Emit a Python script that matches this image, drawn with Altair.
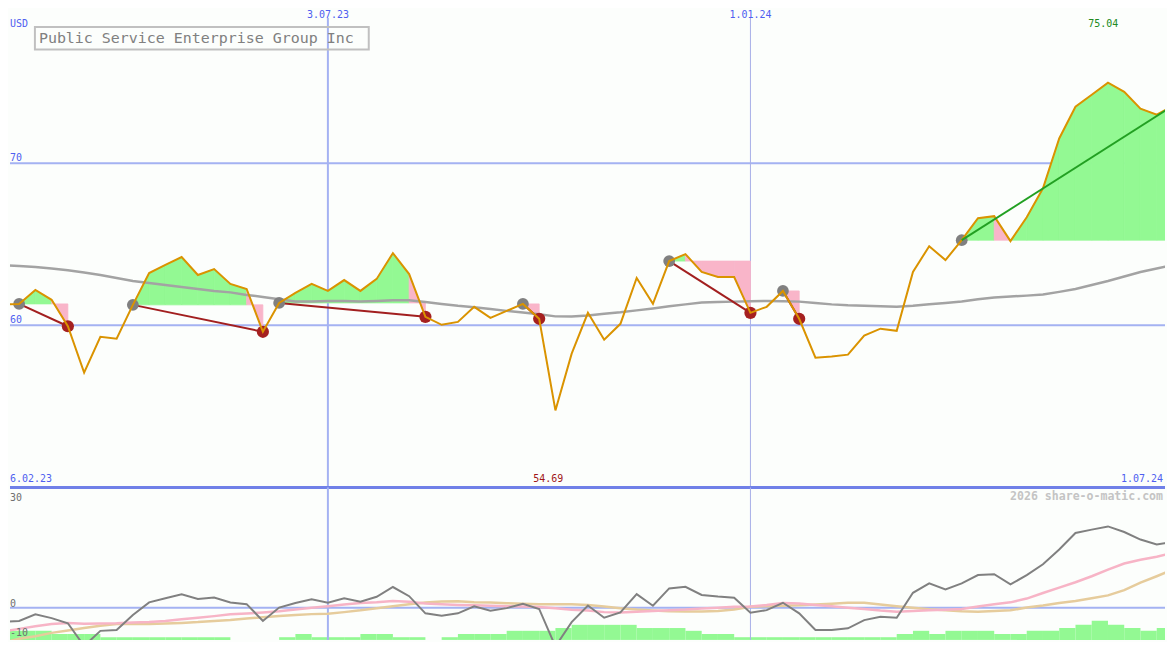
import altair as alt
import pandas as pd

# ---------------- data ----------------
dates = [d.strftime("%Y-%m-%dT00:00:00") for d in pd.date_range("2023-02-13", "2024-07-01", freq="7D")]

price = [61.29, 61.32, 62.18, 61.57, 59.94, 57.08, 59.29, 59.17, 61.26, 63.22,
         63.72, 64.21, 63.10, 63.47, 62.55, 62.24, 59.60, 61.38, 62.00, 62.55,
         62.12, 62.79, 62.12, 62.86, 64.45, 63.16, 60.52, 60.03, 60.21, 61.14,
         60.46, 60.89, 61.32, 60.40, 54.75, 58.25, 60.77, 59.11, 60.09, 62.92,
         61.32, 63.96, 64.39, 63.29, 62.98, 62.98, 60.77, 61.14, 62.12, 60.40,
         58.00, 58.07, 58.19, 59.36, 59.79, 59.66, 63.29, 64.88, 64.02, 65.25,
         66.60, 66.73, 65.19, 66.66, 68.45, 71.52, 73.48, 74.22, 74.96, 74.40,
         73.36, 72.99, 73.54]

ma = [63.72, 63.65, 63.60, 63.50, 63.39, 63.26, 63.10, 62.92, 62.73, 62.61,
      62.49, 62.36, 62.24, 62.12, 62.03, 61.87, 61.75, 61.60, 61.47, 61.47,
      61.50, 61.50, 61.47, 61.50, 61.54, 61.54, 61.44, 61.32, 61.20, 61.11,
      61.00, 60.89, 60.79, 60.68, 60.55, 60.54, 60.61, 60.71, 60.80, 60.92,
      61.04, 61.17, 61.29, 61.41, 61.44, 61.46, 61.49, 61.50, 61.49, 61.46,
      61.38, 61.29, 61.23, 61.20, 61.17, 61.14, 61.20, 61.30, 61.38, 61.47,
      61.60, 61.72, 61.78, 61.83, 61.90, 62.06, 62.24, 62.49, 62.73, 63.01,
      63.29, 63.50, 63.72]

osc = [-3.5, -3.3, -1.65, -2.6, -3.9, -9.6, -5.8, -5.6, -1.8, 1.35,
       2.4, 3.4, 2.2, 2.55, 1.3, 0.9, -3.3, 0.05, 1.2, 2.1,
       1.25, 2.4, 1.5, 2.75, 5.2, 2.9, -1.4, -2.0, -1.4, 0.35,
       -0.75, -0.1, 1.0, -0.3, -9.7, -3.6, 0.55, -2.5, -1.15, 3.4,
       0.5, 4.85, 5.25, 3.2, 2.8, 2.5, -1.25, -0.6, 1.25, -1.4,
       -5.6, -5.6, -5.15, -3.1, -2.25, -2.5, 3.75, 6.1, 4.6, 6.1,
       8.2, 8.4, 5.85, 8.2, 10.9, 14.6, 18.75, 19.6, 20.4, 19.0,
       17.1, 15.9, 16.5]

osc_pink = [-5.95, -5.3, -4.65, -4.1, -3.8, -4.0, -3.95, -3.9, -3.7, -3.55,
            -3.3, -2.9, -2.5, -2.1, -1.65, -1.45, -1.2, -0.9, -0.45, 0.0,
            0.4, 0.8, 1.2, 1.4, 1.7, 1.5, 1.05, 0.85, 0.7, 0.6,
            0.5, 0.4, 0.3, 0.2, -0.1, -0.5, -0.7, -1.1, -1.2, -1.0,
            -0.8, -0.6, -0.45, -0.2, 0.0, 0.25, 0.3, 0.7, 1.2, 1.05,
            0.7, 0.35, 0.0, -0.3, -0.7, -1.0, -0.8, -0.65, -0.5, -0.3,
            0.3, 0.9, 1.35, 2.3, 3.7, 5.05, 6.4, 7.9, 9.55, 11.1,
            12.05, 12.8, 13.75]

osc_tan = [-8.8, -7.8, -7.15, -6.3, -5.7, -5.1, -4.5, -4.1, -4.1, -4.1,
           -3.95, -3.8, -3.6, -3.3, -3.1, -2.7, -2.4, -2.1, -1.8, -1.6,
           -1.5, -1.1, -0.65, -0.1, 0.4, 0.9, 1.3, 1.55, 1.6, 1.4,
           1.3, 1.15, 1.0, 0.9, 0.9, 0.9, 0.7, 0.3, -0.1, -0.45,
           -0.7, -0.9, -0.95, -0.95, -0.8, -0.45, 0.25, 0.4, 0.5, 0.6,
           0.8, 1.0, 1.25, 1.25, 0.8, 0.4, 0.0, -0.4, -0.65, -0.9,
           -1.0, -0.8, -0.65, 0.05, 0.55, 1.2, 1.7, 2.4, 3.1, 4.4,
           6.3, 7.9, 9.6]

# weekly bars at the bottom of the lower panel (top value, None = no bar)
bars = [-8.3, -8.3, -8.3, -9.1, -9.1, -9.1, -9.9, -9.9, -9.9, -9.9,
        -9.9, -9.9, -9.9, -9.9, None, None, None, -9.9, -9.1, -9.9,
        -9.9, -9.9, -9.1, -9.1, -9.9, -9.9, None, -9.9, -9.1, -9.1,
        -9.1, -8.3, -8.3, -8.3, -7.6, -6.8, -6.8, -6.8, -6.8, -7.6,
        -7.6, -7.6, -8.3, -9.1, -9.1, -9.9, -9.9, -9.9, -9.9, -9.9,
        -9.9, -9.9, -9.9, -9.9, -9.9, -9.1, -8.3, -9.1, -8.3, -8.3,
        -8.3, -9.1, -9.1, -8.3, -8.3, -7.6, -6.8, -5.8, -6.8, -7.6,
        -8.3, -7.6]
BAR_BASE = -10.58

signals = [(1, 4), (8, 16), (17, 26), (32, 33), (41, 46), (48, 49)]
open_signal = (59, 72)

# ---------------- styling ----------------
BG = "#fcfefc"
GRID = "#a4b2f2"
BLUE = "#4f5ff0"
FONT = "DejaVu Sans Mono"
GREEN_FILL = "#93f993"
PINK_FILL = "#f9b5c9"

W = 1159
TOP_H = 479
BOT_H = 153

X0 = alt.DateTime(year=2023, month=2, date=16, hours=1, minutes=41)
X1 = alt.DateTime(year=2024, month=6, date=27, hours=13, minutes=35)
xs = alt.Scale(domain=[X0, X1], nice=False)
ys = alt.Scale(domain=[50.0, 79.44], zero=False, nice=False)
# 4 px per unit, 30.18 at the panel top
yb = alt.Scale(domain=[30.18 - BOT_H / 4.0, 30.18], zero=False, nice=False)
ybar = alt.Scale(domain=[BAR_BASE, BAR_BASE + BOT_H / 4.0], zero=False, nice=False)


def X(field="d"):
    return alt.X(f"{field}:T", scale=xs, axis=None)


def Y(field, scale):
    return alt.Y(f"{field}:Q", scale=scale, axis=None)


main = pd.DataFrame({"d": dates, "price": price, "ma": ma,
                     "osc": osc, "pink": osc_pink, "tan": osc_tan})

# fill polygons between price and signal baseline, one per weekly interval
fill_rows = []
for s, e in signals + [open_signal]:
    base = price[s]
    for i in range(s, e):
        c = GREEN_FILL if price[i + 1] >= base else PINK_FILL
        for j in (i, i + 1):
            fill_rows.append({"d": dates[j], "price": price[j], "base": base,
                              "id": f"{s}_{i}", "c": c})
fill_df = pd.DataFrame(fill_rows)

sig_rows = []
for s, e in signals:
    for j in (s, e):
        sig_rows.append({"d": dates[j], "price": price[j], "id": str(s)})
sig_df = pd.DataFrame(sig_rows)
trend_df = pd.DataFrame({"d": [dates[open_signal[0]], dates[open_signal[1]]],
                         "price": [price[open_signal[0]], price[open_signal[1]]]})
starts = [s for s, _ in signals] + [open_signal[0]]
ends = [e for _, e in signals]
start_df = pd.DataFrame({"d": [dates[i] for i in starts], "price": [price[i] for i in starts]})
end_df = pd.DataFrame({"d": [dates[i] for i in ends], "price": [price[i] for i in ends]})

bar_df = pd.DataFrame([{"d": dates[i], "d2": dates[i + 1], "top": b, "base": BAR_BASE}
                       for i, b in enumerate(bars) if b is not None])

vlines = pd.DataFrame({"d": ["2023-07-03T00:00:00", "2024-01-01T00:00:00"],
                       "top": [78.95, 78.95], "bot": [50.0, 50.0]})


def one(**kw):
    return pd.DataFrame({k: [v] for k, v in kw.items()})


def text(df, color, size=10, align="left", weight="normal", dy=0):
    return alt.Chart(df).mark_text(align=align, baseline="alphabetic", font=FONT,
                                   fontSize=size, color=color, fontWeight=weight, dy=dy)


# ---------------- top panel ----------------
hgrid = alt.Chart(pd.DataFrame({"v": [60, 70]})).mark_rule(color=GRID, strokeWidth=2).encode(y=Y("v", ys))
vg1 = alt.Chart(vlines.iloc[[0]]).mark_rule(color=GRID, strokeWidth=2).encode(
    x=X(), y=Y("top", ys), y2="bot:Q")
vg2 = alt.Chart(vlines.iloc[[1]]).mark_rule(color="#a8b0e8", strokeWidth=1).encode(
    x=X(), y=Y("top", ys), y2="bot:Q")
fills = alt.Chart(fill_df).mark_area(strokeWidth=0.8, clip=True).encode(
    x=X(), y=Y("price", ys), y2="base:Q", detail="id:N",
    color=alt.Color("c:N", scale=None), stroke=alt.Stroke("c:N", scale=None))
ma_line = alt.Chart(main).mark_line(color="#a3a3a3", strokeWidth=2.5, clip=True).encode(
    x=X(), y=Y("ma", ys))
sig_lines = alt.Chart(sig_df).mark_line(color="#a21f1f", strokeWidth=2).encode(
    x=X(), y=Y("price", ys), detail="id:N")
gray_dots = alt.Chart(start_df).mark_circle(size=140, color="#808080", opacity=1).encode(
    x=X(), y=Y("price", ys))
red_dots = alt.Chart(end_df).mark_circle(size=150, color="#a52020", opacity=1).encode(
    x=X(), y=Y("price", ys))
price_line = alt.Chart(main).mark_line(color="#da9300", strokeWidth=2, clip=True).encode(
    x=X(), y=Y("price", ys))
trend = alt.Chart(trend_df).mark_line(color="#22a022", strokeWidth=2, clip=True).encode(
    x=X(), y=Y("price", ys))
bottom_rule = alt.Chart(pd.DataFrame({"v": [50.0]})).mark_rule(color="#7080e8", strokeWidth=3).encode(
    y=Y("v", ys))

box = alt.Chart(one(a=0)).mark_rect(fillOpacity=0, stroke="#c0c0c0", strokeWidth=2).encode(
    x=alt.value(25), x2=alt.value(360), y=alt.value(17), y2=alt.value(39.5))
title_t = text(one(t="Public Service Enterprise Group Inc"), "#808080", size=15).encode(
    x=alt.value(29), y=alt.value(33), text="t:N")
usd_t = text(one(t="USD"), BLUE).encode(x=alt.value(0), y=alt.value(16.5), text="t:N")
lvl_t = text(pd.DataFrame({"v": [60, 70], "t": ["60", "70"]}), BLUE, dy=-2.5).encode(
    x=alt.value(0), y=Y("v", ys), text="t:N")
date_top_t = text(pd.DataFrame({"d": ["2023-07-03T00:00:00", "2024-01-01T00:00:00"],
                                "t": ["3.07.23", "1.01.24"]}), BLUE, align="center").encode(
    x=X(), y=alt.value(7.5), text="t:N")
max_t = text(one(t="75.04"), "#218a21").encode(x=alt.value(1082), y=alt.value(16.5), text="t:N")
min_t = text(one(t="54.69"), "#a01515").encode(x=alt.value(525), y=alt.value(474), text="t:N")
start_t = text(one(t="6.02.23"), BLUE).encode(x=alt.value(0), y=alt.value(474), text="t:N")
end_t = text(one(t="1.07.24"), BLUE, align="right").encode(x=alt.value(W - 2), y=alt.value(474), text="t:N")

top = alt.layer(
    hgrid, vg1, vg2, fills, ma_line, sig_lines, gray_dots, red_dots, price_line, trend,
    box, title_t, usd_t, lvl_t, date_top_t, max_t, min_t, start_t, end_t, bottom_rule
).properties(width=W, height=TOP_H)

# ---------------- bottom panel ----------------
bars_l = alt.Chart(bar_df).mark_rect(color=GREEN_FILL, clip=True).encode(
    x=X(), x2="d2:T", y=Y("top", ybar), y2="base:Q")
bvg1 = alt.Chart(vlines.iloc[[0]]).mark_rule(color=GRID, strokeWidth=2).encode(x=X())
bvg2 = alt.Chart(vlines.iloc[[1]]).mark_rule(color="#a8b0e8", strokeWidth=1).encode(x=X())
zero = alt.Chart(pd.DataFrame({"v": [0.0]})).mark_rule(color=GRID, strokeWidth=2).encode(y=Y("v", yb))
tan_line = alt.Chart(main).mark_line(color="#e6cc9c", strokeWidth=2.5, clip=True).encode(
    x=X(), y=Y("tan", yb))
pink_line = alt.Chart(main).mark_line(color="#f7b4c6", strokeWidth=2.5, clip=True).encode(
    x=X(), y=Y("pink", yb))
gray_line = alt.Chart(main).mark_line(color="#808080", strokeWidth=2, clip=True).encode(
    x=X(), y=Y("osc", yb))
wm = text(one(t="2026 share-o-matic.com"), "#c4c4c4", size=11.6, align="right", weight="bold").encode(
    x=alt.value(W - 2), y=alt.value(13), text="t:N")

blvl = alt.layer(
    text(one(t="30", v=30.0), "#707070", dy=12.5).encode(x=alt.value(0), y=Y("v", yb), text="t:N"),
    text(one(t="0", v=0.0), "#707070", dy=-1).encode(x=alt.value(0), y=Y("v", yb), text="t:N"),
    text(one(t="-10"), "#707070").encode(x=alt.value(0), y=alt.value(BOT_H - 4), text="t:N"),
)

bottom = alt.layer(
    bars_l, bvg1, bvg2, zero, tan_line, pink_line, gray_line, blvl, wm
).resolve_scale(y="independent").properties(width=W, height=BOT_H)

chart = alt.vconcat(top, bottom, spacing=0, bounds="flush").properties(
    padding={"left": 0, "top": 0, "right": 0, "bottom": 0}
).configure(background=BG).configure_view(strokeWidth=0)

chart.save("out.html", embed_options={"renderer": "svg", "actions": False})
